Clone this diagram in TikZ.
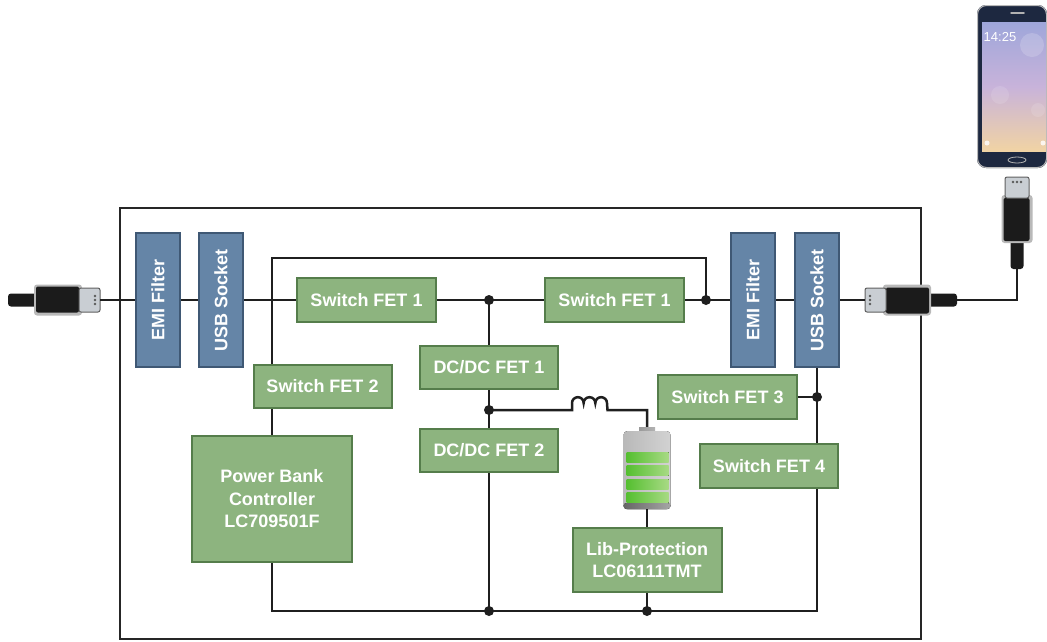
\documentclass[tikz,border=0pt]{standalone}
\usepackage{fontspec}
\setmainfont{Liberation Sans}
\usetikzlibrary{calc}
\definecolor{fetgreen}{HTML}{8DB47F}
\definecolor{fetedge}{HTML}{557D4B}
\definecolor{filtblue}{HTML}{6585A7}
\definecolor{filtedge}{HTML}{3F5874}
\definecolor{wirecol}{HTML}{1F1F1F}
\definecolor{plugblack}{HTML}{1B1B1B}
\definecolor{tipgray}{HTML}{C9CED3}
\definecolor{battgreen}{HTML}{55BF30}
\definecolor{battlight}{HTML}{A8DA84}
\definecolor{phonenavy}{HTML}{1D2840}
\definecolor{screentop}{HTML}{9EA6DA}
\definecolor{screenmid}{HTML}{C8B3DA}
\definecolor{screenbot}{HTML}{F1D3A4}
\tikzstyle{fet}=[draw=fetedge, fill=fetgreen, line width=2pt, text=white, align=center, inner sep=0pt,
  minimum width=138pt, minimum height=43pt, font=\bfseries\fontsize{18}{22.5}\selectfont]
\tikzstyle{filt}=[draw=filtedge, fill=filtblue, line width=2pt, inner sep=0pt, minimum width=44pt, minimum height=134pt]
\tikzstyle{vtext}=[rotate=90, text=white, inner sep=0pt, font=\bfseries\fontsize{18}{18}\selectfont]
\tikzstyle{wire}=[line width=2.5pt, wirecol]
\tikzstyle{frame}=[line width=2pt, black!85]
\newcommand{\usbcplug}[3]{% Syntax: {name} {(tip position)} {direction}
\begin{scope}[shift={#2}, rotate=#3]
  \fill[plugblack, rounded corners=3pt] (-92,-6.5) rectangle (-60,6.5); % cable
  \fill[gray!55, rounded corners=3pt] (-66,-15.5) rectangle (-18,15.5);
  \fill[plugblack, rounded corners=2pt] (-64,-13.5) rectangle (-21,12.5);
  \filldraw[draw=gray!75!black, fill=tipgray, line width=1pt, rounded corners=2pt] (-21,-12) rectangle (0,12); % tip
  \foreach \k in {-4,0,4} \fill[gray!70!black] (-5,\k) circle (1.3);
  \coordinate (#1-tip) at (0,0);
  \coordinate (#1-end) at (-92,0);
\end{scope}}
\newcommand{\drawbattery}[1]{% Syntax: {(center)}
\begin{scope}[shift={#1}]
  \fill[left color=gray!80, middle color=white, right color=gray!60] (-8,-41) rectangle (8,-35); % cap
  \fill[left color=gray!55, middle color=white, right color=gray!35, rounded corners=4pt] (-23.5,-37) rectangle (23.5,41);
  \fill[left color=gray!80!black, middle color=gray!25, right color=gray!70, rounded corners=3pt] (-23.5,35) rectangle (23.5,41);
  \foreach \by in {-16,-2.5,11,24.5}
    \fill[left color=battgreen, right color=battlight] (-20.5,\by) rectangle (21.5,\by+10);
\end{scope}}

\begin{document}
\begin{tikzpicture}[x=1pt,y=-1pt]
\useasboundingbox (0,0) rectangle (1047,641);

% enclosure
\draw[frame] (120,208) rectangle (921,639);

% filters and sockets
\node[filt] (emiL) at (158,300) {};
\node[vtext] (emiLt) at (emiL) {EMI Filter};
\node[filt] (usbL) at (221,300) {};
\node[vtext] (usbLt) at (usbL) {USB Socket};
\node[filt] (emiR) at (753,300) {};
\node[vtext] (emiRt) at (emiR) {EMI Filter};
\node[filt] (usbR) at (817,300) {};
\node[vtext] (usbRt) at (usbR) {USB Socket};

% switches
\node[fet, minimum width=139pt, minimum height=44pt] (swA) at (366.5,300) {Switch FET 1};
\node[fet, minimum width=139pt, minimum height=44pt] (swB) at (614.5,300) {Switch FET 1};
\node[fet] (sw2) at (322.5,386.5) {Switch FET 2};
\node[fet, minimum width=139pt, minimum height=44pt] (sw3) at (727.5,397) {Switch FET 3};
\node[fet, minimum height=44pt] (sw4) at (769,466) {Switch FET 4};
\node[fet] (dc1) at (489,367.5) {DC/DC FET 1};
\node[fet] (dc2) at (489,450.5) {DC/DC FET 2};
\node[fet, minimum width=160pt, minimum height=126pt] (pbc) at (272,499) {Power Bank\\Controller\\LC709501F};
\node[fet, minimum width=149pt, minimum height=64pt] (lib) at (647,560) {Lib-Protection\\LC06111TMT};

% battery cell
\node[minimum width=47pt, minimum height=82pt, inner sep=0pt] (batt) at (647,468) {};
\drawbattery{(647,468)}

% plugs
\usbcplug{plugL}{(100,300)}{0}
\usbcplug{plugR}{(865,300)}{180}
\usbcplug{plugP}{(1017,177)}{90}

% junctions
\coordinate (j1) at (489,300);
\coordinate (j2) at (706,300);
\coordinate (j3) at (489,410);
\coordinate (j4) at (489,611);
\coordinate (j5) at (647,611);
\coordinate (j6) at (817,397);
\coordinate (cTL) at (272,258);
\coordinate (indA) at (572,410);
\coordinate (indB) at (607.5,410);

% power path
\draw[wire] (plugL-tip) -- (emiL.west);
\draw[wire] (emiL.east) -- (usbL.west);
\draw[wire] (usbL.east) -- (swA.west);
\draw[wire] (swA.east) -- (j1) -- (swB.west);
\draw[wire] (swB.east) -- (j2) -- (emiR.west);
\draw[wire] (emiR.east) -- (usbR.west);
\draw[wire] (usbR.east) -- (plugR-tip);
\draw[line width=1.5pt, wirecol] (plugR-end) -| (plugP-end);

% bypass and ground
\draw[wire] (j2) |- (cTL) -- (cTL |- sw2.north);
\draw[wire] (cTL |- sw2.south) -- (pbc.north);
\draw[wire] (pbc.south) |- (j4) -- (j5);
\draw[wire] (usbR.south) -- (j6) -- (j6 |- sw4.north);
\draw[wire] (j6 |- sw4.south) |- (j5);
\draw[wire] (j6) -- (sw3.east);

% buck converter and cell
\draw[wire] (j1) -- (dc1.north);
\draw[wire] (dc1.south) -- (j3) -- (dc2.north);
\draw[wire] (dc2.south) -- (j4);
\draw[wire] (j3) -- (indA) -- ++(0,-7) arc(180:360:5.83) arc(180:360:5.83) arc(180:360:5.83) -- (indB) -| (batt.north);
\draw[wire] (batt.south) -- (lib.north);
\draw[wire] (lib.south) -- (j5);
\foreach \j in {j1,j2,j3,j4,j5,j6} \fill[wirecol] (\j) circle (5);

% handset
\fill[phonenavy, rounded corners=9pt] (977,5) rectangle (1047,168);
\draw[gray!55, line width=1pt, rounded corners=9pt] (977.5,5.5) rectangle (1046.5,167.5);
\shade[top color=screentop, bottom color=screenbot, middle color=screenmid] (982,22) rectangle (1046,151);
\fill[white, opacity=0.18] (1032,45) circle (12);
\fill[white, opacity=0.12] (1000,95) circle (9);
\fill[white, opacity=0.12] (1038,110) circle (7);
\node[text=white, inner sep=0pt, font=\fontsize{13}{13}\selectfont] (clock) at (1000,37) {14:25};
\fill[white, opacity=0.8] (987,143) circle (2.5);
\fill[white, opacity=0.8] (1043,143) circle (2.5);
\draw[gray!60, line width=1.5pt, line cap=round] (1011,13) -- (1024,13);
\draw[gray!60, line width=0.8pt] (1017,160) ellipse (9 and 3);
\end{tikzpicture}
\end{document}
